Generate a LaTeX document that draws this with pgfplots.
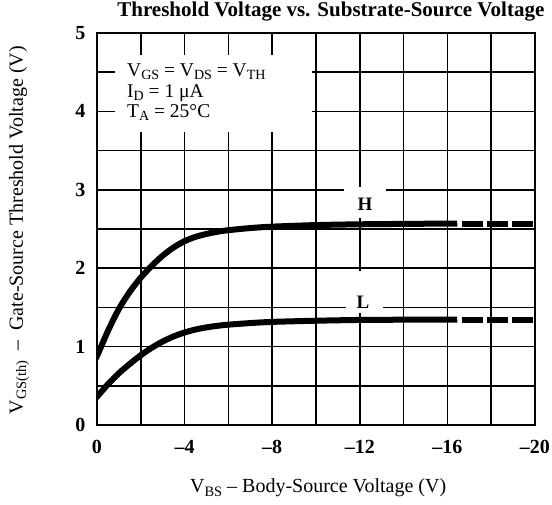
\documentclass[border=0pt]{standalone}
\usepackage{pgfplots}
\pgfplotsset{compat=1.18}
\usepackage{fontspec}
\setmainfont{Liberation Serif}
\newcommand{\sub}[1]{\raisebox{-0.36ex}{\scalebox{0.72}{#1}}}
\begin{document}
\begin{tikzpicture}
\path[use as bounding box] (-97pt,-79pt) rectangle (455pt,425pt);
\begin{axis}[
  at={(0pt,0pt)}, anchor=south west,
  scale only axis, width=438pt, height=392pt,
  x dir=reverse, xmin=-20, xmax=0, ymin=0, ymax=5,
  xtick={0,-4,-8,-12,-16,-20},
  xticklabels={0,–4,–8,–12,–16,–20},
  minor xtick={-2,-6,-10,-14,-18},
  ytick={0,1,2,3,4,5},
  yticklabels={0,1,2,3,4,5},
  minor ytick={0.5,1.5,2.5,3.5,4.5},
  grid=both,
  major grid style={black, line width=1.7pt},
  minor grid style={black, line width=1.7pt},
  major tick length=0pt, minor tick length=0pt,
  axis line style={line width=2.2pt},
  tick label style={font=\bfseries\fontsize{20}{20}\selectfont},
  xticklabel style={yshift=-12pt},
  yticklabel style={xshift=-8pt},
  title={Threshold Voltage vs. Substrate-Source Voltage},
  title style={at={(axis description cs:0.534,1.028)}, anchor=base, inner sep=0pt, font=\bfseries\fontsize{21}{24}\selectfont},
  xlabel={V\sub{BS} – Body-Source Voltage (V)},
  xlabel style={at={(axis description cs:0.505,-0.173)}, anchor=base, inner sep=0pt, font=\fontsize{20}{22}\selectfont},
  ylabel={V\sub{GS(th)}\ \ –\ \ Gate-Source Threshold Voltage (V)},
  ylabel style={at={(axis description cs:-0.178,0.497)}, anchor=center, inner sep=0pt, font=\fontsize{20}{22}\selectfont},
]
% white areas that break the grid behind the texts
\fill[white] (axis cs:-0.8,3.74) rectangle (axis cs:-9.8,4.72);
\fill[white] (axis cs:-11.3,2.64) rectangle (axis cs:-13.2,3.03);
\fill[white] (axis cs:-11.35,1.43) rectangle (axis cs:-13.05,1.96);
\node[anchor=base west, inner sep=0pt, font=\fontsize{19.5}{19.5}\selectfont] at (axis cs:-1.37,4.45) {V\sub{GS} = V\sub{DS} = V\sub{TH}};
\node[anchor=base west, inner sep=0pt, font=\fontsize{19.5}{19.5}\selectfont] at (axis cs:-1.37,4.18) {I\sub{D} = 1 μA};
\node[anchor=base west, inner sep=0pt, font=\fontsize{19.5}{19.5}\selectfont] at (axis cs:-1.37,3.92) {T\sub{A} = 25°C};
\node[font=\bfseries\fontsize{19}{19}\selectfont] at (axis cs:-12.24,2.81) {H};
\node[font=\bfseries\fontsize{19}{19}\selectfont] at (axis cs:-12.15,1.56) {L};
% H curve
\addplot[black, line width=6pt, smooth] coordinates {
 (0.3,0.72) (0,0.88) (-0.5,1.20) (-1,1.48) (-1.5,1.70) (-2,1.88) (-2.5,2.03) (-3,2.16)
 (-3.5,2.265) (-4,2.345) (-4.5,2.40) (-5,2.437) (-5.5,2.465) (-6,2.485) (-7,2.512) (-8,2.53) (-10,2.55)
 (-12,2.56) (-14,2.565) (-16.45,2.57)};
\addplot[black, line width=6pt, dash pattern=on 21pt off 4pt] coordinates {
 (-16.67,2.57) (-20.3,2.57)};
% L curve
\addplot[black, line width=6pt, smooth] coordinates {
 (0.3,0.27) (0,0.36) (-0.5,0.52) (-1,0.66) (-1.5,0.78) (-2,0.89) (-2.5,0.985) (-3,1.065)
 (-3.5,1.13) (-4,1.18) (-4.5,1.218) (-5,1.245) (-5.5,1.265) (-6,1.28) (-7,1.30) (-8,1.315) (-10,1.33)
 (-12,1.34) (-14,1.343) (-16.45,1.345)};
\addplot[black, line width=6pt, dash pattern=on 21pt off 4pt] coordinates {
 (-16.67,1.345) (-20.3,1.345)};
\end{axis}
\end{tikzpicture}
\end{document}
